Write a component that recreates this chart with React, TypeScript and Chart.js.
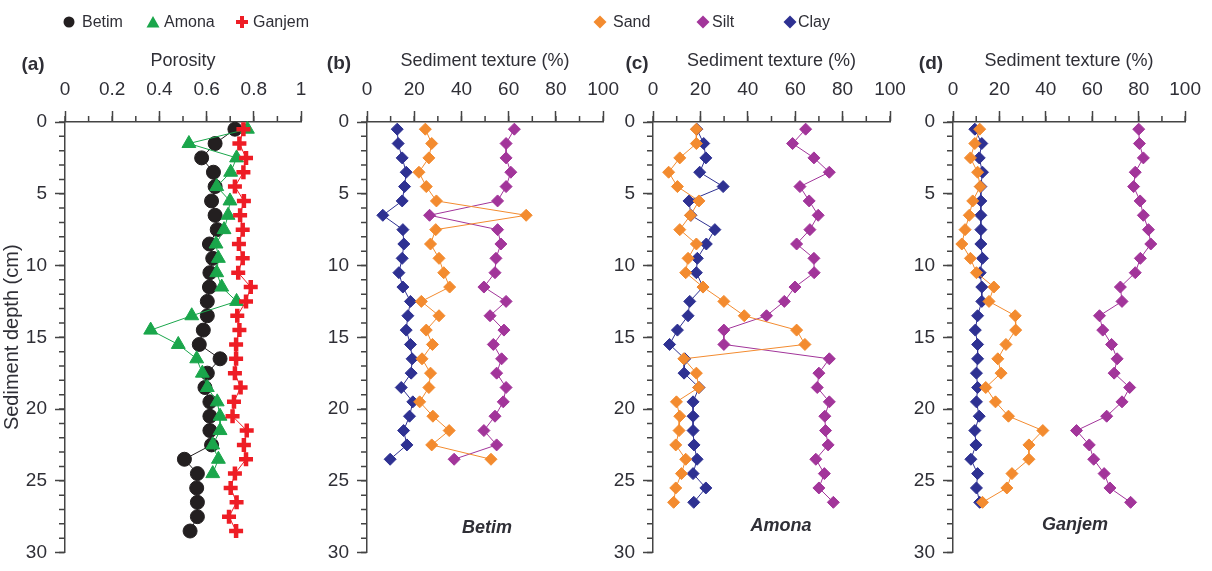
import React, { useEffect, useRef } from 'react';
import { Chart, registerables } from 'chart.js';

Chart.register(...registerables);

const FONT = "'Liberation Sans', Arial, Helvetica, sans-serif";
const TEXT = '#2f2f36';
const AXIS = '#444444';

const C_BETIM = '#231f20';
const C_AMONA = '#1aa64b';
const C_GANJEM = '#ee1d25';
const C_SAND = '#f38b2f';
const C_SILT = '#a2359a';
const C_CLAY = '#2e3192';

// depth of each sample (cm)
const depths = [0.5, 1.5, 2.5, 3.5, 4.5, 5.5, 6.5, 7.5, 8.5, 9.5, 10.5, 11.5, 12.5, 13.5, 14.5,
  15.5, 16.5, 17.5, 18.5, 19.5, 20.5, 21.5, 22.5, 23.5, 24.5, 25.5, 26.5, 27.5, 28.5];

// (a) porosity
const betimPorosity = [0.72, 0.636, 0.579, 0.629, 0.636, 0.621, 0.636, 0.645, 0.612, 0.626, 0.614, 0.612,
  0.603, 0.603, 0.586, 0.569, 0.657, 0.603, 0.593, 0.614, 0.614, 0.614, 0.621, 0.506, 0.561, 0.558, 0.561,
  0.561, 0.53];
const amonaPorosity = [0.773, 0.525, 0.727, 0.702, 0.643, 0.699, 0.691, 0.674, 0.64, 0.65, 0.643, 0.664,
  0.727, 0.537, 0.363, 0.48, 0.558, 0.582, 0.603, 0.645, 0.657, 0.657, 0.626, 0.65, 0.626];
const ganjemPorosity = [0.756, 0.739, 0.767, 0.756, 0.72, 0.758, 0.742, 0.753, 0.737, 0.753, 0.734, 0.787,
  0.767, 0.73, 0.739, 0.725, 0.725, 0.72, 0.744, 0.716, 0.71, 0.77, 0.758, 0.767, 0.72, 0.702, 0.727, 0.695,
  0.725];

// (b) Betim texture (%)
const betimSand = [24.7, 27.4, 26.2, 22.0, 25.1, 29.4, 67.4, 29.1, 26.9, 30.5, 32.5, 35.0, 23.0, 30.5, 25.1,
  27.7, 23.3, 26.9, 26.2, 22.3, 27.9, 34.8, 27.4, 52.5];
const betimSilt = [62.4, 58.9, 58.9, 60.9, 58.9, 55.3, 26.5, 55.3, 56.7, 54.6, 54.2, 49.5, 58.9, 52.1, 58.0,
  53.5, 57.0, 54.9, 58.9, 57.7, 54.2, 49.5, 54.9, 36.9];
const betimClay = [12.8, 13.2, 14.9, 16.6, 15.9, 14.9, 6.7, 15.2, 15.6, 14.9, 13.5, 15.2, 18.4, 17.3, 16.6,
  18.4, 19.1, 18.7, 14.5, 19.4, 18.0, 15.5, 16.9, 9.8];

// (c) Amona texture (%)
const amonaSand = [18.3, 18.3, 11.3, 6.6, 10.3, 19.4, 15.8, 11.3, 18.3, 14.8, 13.8, 21.1, 29.9, 38.5, 60.6,
  64.1, 13.0, 18.3, 19.3, 9.9, 11.3, 11.0, 9.6, 13.8, 12.0, 9.6, 8.7];
const amonaSilt = [64.4, 58.9, 67.9, 74.4, 62.0, 65.9, 69.7, 66.2, 60.6, 67.9, 68.0, 59.9, 55.4, 47.9, 29.9,
  29.9, 74.4, 70.0, 69.3, 74.4, 72.5, 72.8, 73.9, 68.7, 72.3, 70.0, 76.1];
const amonaClay = [18.5, 21.4, 22.3, 19.7, 29.6, 15.2, 16.0, 26.1, 22.5, 18.7, 18.3, 21.1, 15.5, 14.8, 10.3,
  7.0, 13.4, 13.1, 19.4, 16.9, 16.9, 16.9, 17.3, 18.6, 16.9, 22.3, 17.2];

// (d) Ganjem texture (%)
const ganjemSand = [11.5, 9.4, 7.5, 10.6, 11.7, 8.5, 7.0, 5.2, 3.8, 7.5, 10.1, 17.6, 15.5, 26.8, 27.0, 22.8,
  19.3, 20.7, 14.1, 18.3, 23.9, 38.7, 32.7, 32.7, 25.4, 23.2, 12.7];
const ganjemSilt = [80.0, 80.3, 82.0, 78.5, 77.8, 80.6, 82.0, 84.2, 85.2, 80.7, 78.5, 72.1, 72.8, 63.1, 64.5,
  68.3, 70.7, 69.4, 76.1, 72.8, 66.2, 53.2, 58.7, 60.6, 65.1, 67.6, 76.5];
const ganjemClay = [9.4, 12.4, 11.3, 12.7, 12.0, 12.0, 12.0, 12.0, 12.0, 12.7, 11.7, 12.4, 12.4, 10.6, 9.6,
  10.6, 10.6, 10.1, 10.6, 10.1, 11.3, 9.4, 9.9, 7.7, 10.6, 10.1, 11.5];

const porosityTicks = [0, 0.2, 0.4, 0.6, 0.8, 1];
const textureTicks = [0, 20, 40, 60, 80, 100];
const depthTicks = [0, 5, 10, 15, 20, 25, 30];

function series(label: string, xs: number[], color: string, style: string, radius: number, order: number, pbw = 1) {
  return {
    label,
    data: xs.map((v, i) => ({ x: v, y: depths[i] })),
    showLine: true,
    borderColor: color,
    backgroundColor: color,
    borderWidth: 1,
    pointStyle: style,
    pointRadius: radius,
    pointBackgroundColor: color,
    pointBorderColor: color,
    pointBorderWidth: pbw,
    order,
    clip: false,
  };
}

const minorTickPlugin = {
  id: 'minorTicks',
  afterDraw(chart: any, _args: any, opts: any) {
    const { ctx, chartArea, scales } = chart;
    const x = scales.x;
    const y = scales.y;
    ctx.save();
    ctx.strokeStyle = AXIS;
    ctx.lineWidth = 1.5;
    ctx.beginPath();
    const nx = Math.round((x.max - x.min) / opts.xStep);
    for (let i = 0; i <= nx; i++) {
      const px = x.getPixelForValue(x.min + i * opts.xStep);
      ctx.moveTo(px, chartArea.top);
      ctx.lineTo(px, chartArea.top - 6);
    }
    const ny = Math.round((y.max - y.min) / opts.yStep);
    for (let i = 0; i <= ny; i++) {
      const py = y.getPixelForValue(y.min + i * opts.yStep);
      ctx.moveTo(chartArea.left, py);
      ctx.lineTo(chartArea.left - 6, py);
    }
    ctx.stroke();
    ctx.restore();
  },
};

type PanelProps = {
  left: number;
  width: number;
  x0: number;
  x1: number;
  datasets: any[];
  xTicks: number[];
  xMax: number;
  xStep: number;
  title: string;
  yTitle?: string;
};

function Panel({ left, width, x0, x1, datasets, xTicks, xMax, xStep, title, yTitle }: PanelProps) {
  const ref = useRef<HTMLCanvasElement>(null);
  useEffect(() => {
    if (!ref.current) return;
    const tickFont = { family: FONT, size: 19, lineHeight: 1.1 };
    const chart = new Chart(ref.current, {
      type: 'scatter',
      data: { datasets },
      options: {
        animation: false,
        responsive: false,
        devicePixelRatio: 1,
        events: [],
        layout: { padding: { top: 0, left: 0, right: left + width - x1, bottom: 11 } },
        plugins: {
          legend: { display: false },
          tooltip: { enabled: false },
          minorTicks: { xStep, yStep: 1 },
        } as any,
        scales: {
          x: {
            type: 'linear',
            position: 'top',
            min: 0,
            max: xMax,
            afterBuildTicks: (s: any) => {
              s.ticks = xTicks.map((v) => ({ value: v }));
            },
            afterFit: (s: any) => {
              s.height = 122;
            },
            ticks: {
              font: tickFont,
              color: TEXT,
              padding: 11,
              maxRotation: 0,
              autoSkip: false,
              callback: (v: any) => String(v),
            },
            grid: {
              drawOnChartArea: false,
              drawTicks: true,
              tickLength: 11,
              tickWidth: 1.5,
              tickColor: AXIS,
            },
            border: { display: true, color: AXIS, width: 1.5 },
            title: {
              display: true,
              text: title,
              color: TEXT,
              font: { family: FONT, size: 18 },
              padding: { top: 50, bottom: 0 },
            },
          },
          y: {
            type: 'linear',
            reverse: true,
            min: 0,
            max: 30,
            afterBuildTicks: (s: any) => {
              s.ticks = depthTicks.map((v) => ({ value: v }));
            },
            afterFit: (s: any) => {
              s.width = x0 - left;
            },
            ticks: {
              font: tickFont,
              color: TEXT,
              padding: 8,
              autoSkip: false,
              callback: (v: any) => String(v),
            },
            grid: {
              drawOnChartArea: false,
              drawTicks: true,
              tickLength: 10,
              tickWidth: 1.5,
              tickColor: AXIS,
            },
            border: { display: true, color: AXIS, width: 1.5 },
            title: {
              display: !!yTitle,
              text: yTitle || '',
              color: TEXT,
              font: { family: FONT, size: 20 },
              padding: { top: 0, bottom: 0 },
            },
          },
        },
      } as any,
      plugins: [minorTickPlugin],
    });
    return () => chart.destroy();
  }, []);
  return (
    <canvas
      ref={ref}
      width={width}
      height={571}
      style={{ position: 'absolute', left, top: 0, width, height: 571 }}
    />
  );
}

function Label({ x, y, text, style }: { x: number; y: number; text: string; style?: React.CSSProperties }) {
  return (
    <div
      style={{
        position: 'absolute',
        left: x,
        top: y,
        transform: 'translate(-50%, -50%)',
        fontFamily: FONT,
        color: TEXT,
        lineHeight: 1,
        whiteSpace: 'nowrap',
        ...style,
      }}
    >
      {text}
    </div>
  );
}

function LegendItem({ cx, tx, text, marker }: { cx: number; tx: number; text: string; marker: React.ReactNode }) {
  return (
    <>
      <svg
        width={16}
        height={16}
        viewBox="-8 -8 16 16"
        style={{ position: 'absolute', left: cx - 8, top: 22 - 8 }}
      >
        {marker}
      </svg>
      <div
        style={{
          position: 'absolute',
          left: tx,
          top: 22,
          transform: 'translateY(-50%)',
          fontFamily: FONT,
          fontSize: 16,
          color: TEXT,
          lineHeight: 1,
          whiteSpace: 'nowrap',
        }}
      >
        {text}
      </div>
    </>
  );
}

const diamond = (c: string) => <polygon points="0,-6.5 6.5,0 0,6.5 -6.5,0" fill={c} />;

export default function App() {
  const porosityDatasets = [
    series('Betim', betimPorosity, C_BETIM, 'circle', 7, 3),
    series('Amona', amonaPorosity, C_AMONA, 'triangle', 8, 2),
    series('Ganjem', ganjemPorosity, C_GANJEM, 'cross', 7, 1, 4.5),
  ];
  const tex = (sand: number[], silt: number[], clay: number[]) => [
    series('Sand', sand, C_SAND, 'rectRot', 6, 1),
    series('Silt', silt, C_SILT, 'rectRot', 6, 2),
    series('Clay', clay, C_CLAY, 'rectRot', 6, 3),
  ];
  return (
    <div
      style={{
        position: 'absolute',
        left: 0,
        top: 0,
        width: 1212,
        height: 571,
        background: '#ffffff',
        overflow: 'hidden',
      }}
    >
      <Panel left={0} width={330} x0={65} x1={301} datasets={porosityDatasets} xTicks={porosityTicks}
        xMax={1} xStep={0.1} title="Porosity" yTitle="Sediment depth (cm)" />
      <Panel left={300} width={330} x0={367} x1={604} datasets={tex(betimSand, betimSilt, betimClay)}
        xTicks={textureTicks} xMax={100} xStep={10} title="Sediment texture (%)" />
      <Panel left={590} width={330} x0={653} x1={890} datasets={tex(amonaSand, amonaSilt, amonaClay)}
        xTicks={textureTicks} xMax={100} xStep={10} title="Sediment texture (%)" />
      <Panel left={890} width={322} x0={953} x1={1190} datasets={tex(ganjemSand, ganjemSilt, ganjemClay)}
        xTicks={textureTicks} xMax={100} xStep={10} title="Sediment texture (%)" />

      <Label x={33} y={63} text="(a)" style={{ fontSize: 19, fontWeight: 'bold' }} />
      <Label x={339} y={62} text="(b)" style={{ fontSize: 19, fontWeight: 'bold' }} />
      <Label x={637} y={62} text="(c)" style={{ fontSize: 19, fontWeight: 'bold' }} />
      <Label x={931} y={62} text="(d)" style={{ fontSize: 19, fontWeight: 'bold' }} />

      <Label x={487} y={527} text="Betim" style={{ fontSize: 18, fontWeight: 'bold', fontStyle: 'italic' }} />
      <Label x={781} y={525} text="Amona" style={{ fontSize: 18, fontWeight: 'bold', fontStyle: 'italic' }} />
      <Label x={1075} y={524} text="Ganjem" style={{ fontSize: 18, fontWeight: 'bold', fontStyle: 'italic' }} />

      <LegendItem cx={69} tx={82} text="Betim" marker={<circle cx={0} cy={0} r={5.5} fill={C_BETIM} />} />
      <LegendItem cx={153} tx={164} text="Amona" marker={<polygon points="0,-6 6.5,5.5 -6.5,5.5" fill={C_AMONA} />} />
      <LegendItem
        cx={242}
        tx={253}
        text="Ganjem"
        marker={
          <g fill={C_GANJEM}>
            <rect x={-6} y={-2} width={12} height={4} />
            <rect x={-2} y={-6} width={4} height={12} />
          </g>
        }
      />
      <LegendItem cx={600} tx={613} text="Sand" marker={diamond(C_SAND)} />
      <LegendItem cx={703} tx={712} text="Silt" marker={diamond(C_SILT)} />
      <LegendItem cx={790} tx={798} text="Clay" marker={diamond(C_CLAY)} />
    </div>
  );
}
